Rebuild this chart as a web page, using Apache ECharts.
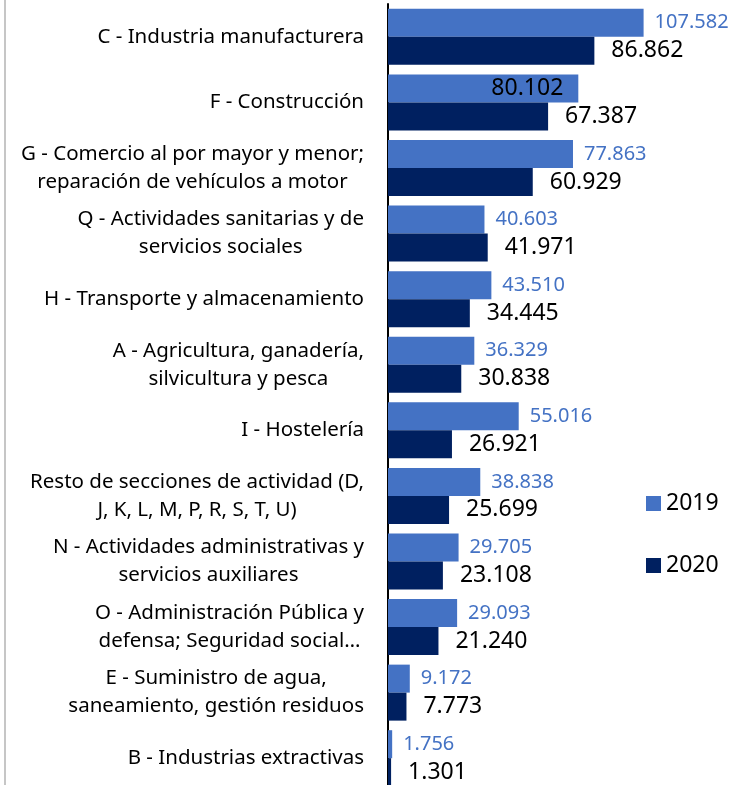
<!DOCTYPE html>
<html>
<head>
<meta charset="utf-8">
<script src="https://cdn.jsdelivr.net/npm/echarts@6/dist/echarts.min.js"></script>
<style>
  html, body { margin: 0; padding: 0; background: #fff; overflow: hidden; }
  #frame { position: absolute; left: 4px; top: 0; width: 0; height: 800px; border-left: 2px solid #c6c6c6; }
  #myChart { position: absolute; left: 0; top: 0; width: 748px; height: 800px; }
</style>
</head>
<body>
<div id="myChart"></div>
<div id="frame"></div>
<script>
// categorías (de arriba a abajo)
var categories = [
  'C - Industria manufacturera',
  'F - Construcción',
  'G - Comercio al por mayor y menor;\nreparación de vehículos a motor',
  'Q - Actividades sanitarias y de\nservicios sociales',
  'H - Transporte y almacenamiento',
  'A - Agricultura, ganadería,\nsilvicultura y pesca',
  'I - Hostelería',
  'Resto de secciones de actividad (D,\nJ, K, L, M, P, R, S, T, U)',
  'N - Actividades administrativas y\nservicios auxiliares',
  'O - Administración Pública y\ndefensa; Seguridad social…',
  'E - Suministro de agua,\nsaneamiento, gestión residuos',
  'B - Industrias extractivas'
]
var values2019 = [107.582, 80.102, 77.863, 40.603, 43.510, 36.329, 55.016, 38.838, 29.705, 29.093, 9.172, 1.756]
var values2020 = [86.862, 67.387, 60.929, 41.971, 34.445, 30.838, 26.921, 25.699, 23.108, 21.240, 7.773, 1.301]

var FONT = 'Noto Sans'
var fmt = function (p) { return p.value.toFixed(3) }

var data2019 = values2019.map(function (v, i) {
  // la etiqueta de F va dentro de la barra
  if (i === 1) {
    return { value: v, label: { position: 'insideRight', distance: 15, color: '#000', fontSize: 23 } }
  }
  return v
})

var myChart = echarts.init(document.getElementById('myChart'))
myChart.setOption({
  backgroundColor: '#fff',
  color: ['#4472C4', '#002060'],
  animation: false,
  textStyle: { fontFamily: FONT },
  legend: {
    orient: 'vertical',
    left: 641,
    top: 487,
    itemWidth: 15,
    itemHeight: 15,
    itemGap: 39,
    icon: 'rect',
    textStyle: { fontSize: 23, color: '#000', fontFamily: FONT },
    data: ['2019', '2020']
  },
  grid: { left: 388, right: 6, top: 4, bottom: 9, containLabel: false },
  xAxis: {
    type: 'value',
    min: 0,
    max: 149,
    show: false
  },
  yAxis: {
    type: 'category',
    inverse: true,
    data: categories,
    axisLine: { show: true, lineStyle: { color: '#000', width: 2 } },
    axisTick: { show: false },
    axisLabel: {
      margin: 24,
      color: '#000',
      fontSize: 20.5,
      lineHeight: 28,
      fontFamily: FONT,
      formatter: function (value) {
        return value.split('\n').map(function (l) { return '{c|' + l + '}' }).join('\n')
      },
      rich: {
        c: { align: 'center', fontSize: 20.5, lineHeight: 28, color: '#000', fontFamily: FONT }
      }
    }
  },
  series: [{
    name: '2019',
    type: 'bar',
    barWidth: 28,
    barGap: '0%',
    data: data2019,
    label: {
      show: true,
      position: 'right',
      distance: 11,
      color: '#4472C4',
      fontSize: 20,
      fontFamily: FONT,
      formatter: fmt
    }
  }, {
    name: '2020',
    type: 'bar',
    barWidth: 28,
    data: values2020,
    label: {
      show: true,
      position: 'right',
      distance: 17,
      color: '#000',
      fontSize: 23,
      fontFamily: FONT,
      formatter: fmt
    }
  }]
})
</script>
</body>
</html>
